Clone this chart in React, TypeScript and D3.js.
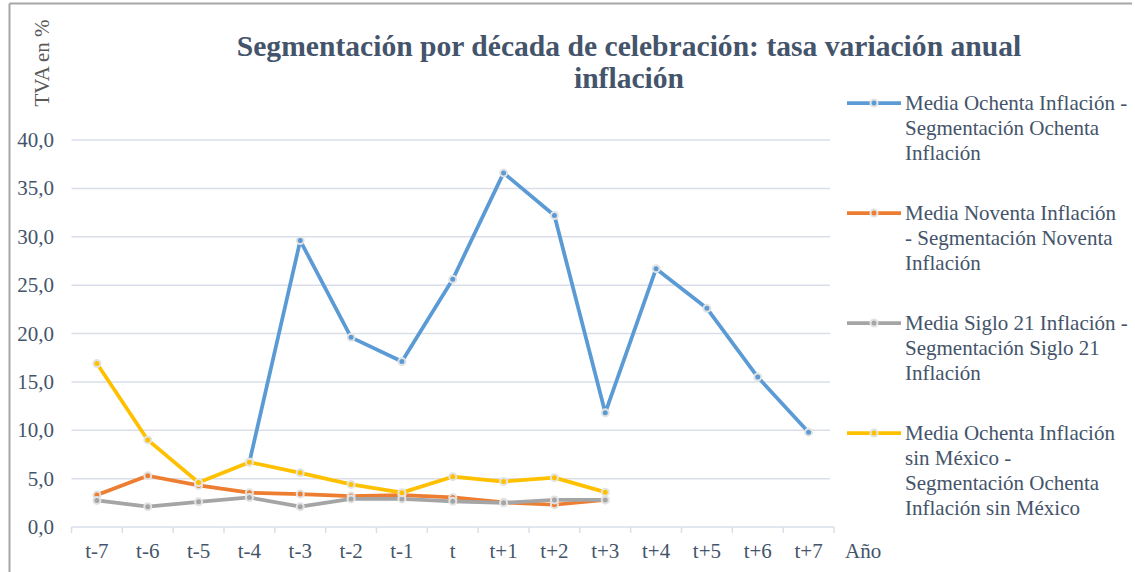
import React from "react";
import * as d3 from "d3";

const categories = ["t-7","t-6","t-5","t-4","t-3","t-2","t-1","t","t+1","t+2","t+3","t+4","t+5","t+6","t+7"];
const yTicks = [0, 5, 10, 15, 20, 25, 30, 35, 40];

const ochenta: (number | null)[] = [null, null, null, 6.7, 29.6, 19.6, 17.1, 25.6, 36.6, 32.2, 11.8, 26.7, 22.6, 15.5, 9.8];
const noventa: (number | null)[] = [3.3, 5.3, 4.3, 3.55, 3.4, 3.2, 3.3, 3.05, 2.55, 2.3, 2.8, null, null, null, null];
const siglo21: (number | null)[] = [2.75, 2.1, 2.6, 3.05, 2.1, 2.9, 2.9, 2.65, 2.5, 2.8, 2.8, null, null, null, null];
const ochentaSinMexico: (number | null)[] = [16.9, 9.0, 4.6, 6.7, 5.6, 4.4, 3.55, 5.2, 4.7, 5.1, 3.6, null, null, null, null];

const seriesNames = [
  ["Media Ochenta Inflación -", "Segmentación Ochenta", "Inflación"],
  ["Media Noventa Inflación", "- Segmentación Noventa", "Inflación"],
  ["Media Siglo 21 Inflación -", "Segmentación Siglo 21", "Inflación"],
  ["Media Ochenta Inflación", "sin México -", "Segmentación Ochenta", "Inflación sin México"],
];
const seriesColors = ["#5B9BD5", "#ED7D31", "#A5A5A5", "#FFC000"];
const seriesValues = [ochenta, noventa, siglo21, ochentaSinMexico];
const FONT = "Liberation Serif";
const TXT = "#44546A";

export default function App() {
  const W = 1135, H = 572;
  const left = 71.5, right = 834, top = 140, bottom = 527;
  const x = d3.scaleBand<string>().domain(categories).range([left, right]);
  const y = d3.scaleLinear().domain([0, 40]).range([bottom, top]);
  const cx = (c: string) => (x(c) as number) + x.bandwidth() / 2;
  const line = d3.line<[string, number | null]>()
    .defined(d => d[1] !== null)
    .x(d => cx(d[0]))
    .y(d => y(d[1] as number));

  const legendY = [103, 213, 323, 433];
  const lh = 25;
  const ts = { fontFamily: FONT };
  const FS = 21;

  return (
    <svg width={W} height={H} style={{ position: "absolute", left: 0, top: 0, background: "#fff", fontFamily: FONT }}>
      <line x1={9.5} y1={3.5} x2={1132} y2={3.5} stroke="#A6A6A6" strokeWidth={2} />
      <line x1={9.5} y1={3.5} x2={9.5} y2={H} stroke="#A6A6A6" strokeWidth={2} />

      <text style={ts} x={629} y={56} textAnchor="middle" fontSize={29.6} fontWeight="bold" fill={TXT}>
        Segmentación por década de celebración: tasa variación anual
      </text>
      <text style={ts} x={629} y={88} textAnchor="middle" fontSize={29.6} fontWeight="bold" fill={TXT}>
        inflación
      </text>

      <text style={ts} transform="translate(49,63) rotate(-90)" textAnchor="middle" fontSize={FS} fill="#595959">TVA en %</text>

      {yTicks.map(t => (
        <g key={t}>
          {t !== 0 && <line x1={left} x2={right - 4} y1={y(t)} y2={y(t)} stroke="#D9DEE8" strokeWidth={1.5} />}
          <text style={ts} x={54} y={y(t) + 7} textAnchor="end" fontSize={FS} fill={TXT}>{d3.format(".1f")(t).replace(".", ",")}</text>
        </g>
      ))}
      <line x1={left} x2={right} y1={bottom} y2={bottom} stroke="#D9DEE8" strokeWidth={1.5} />
      {categories.map(c => (
        <line key={"tk" + c} x1={(x(c) as number)} x2={(x(c) as number)} y1={bottom} y2={bottom + 6} stroke="#D9DEE8" strokeWidth={1.5} />
      ))}
      <line x1={right} x2={right} y1={bottom} y2={bottom + 6} stroke="#D9DEE8" strokeWidth={1.5} />
      {categories.map(c => (
        <text style={ts} key={"lb" + c} x={cx(c)} y={558} textAnchor="middle" fontSize={FS} fill={TXT}>{c}</text>
      ))}
      <text style={ts} x={845} y={558} fontSize={FS} fill={TXT}>Año</text>

      {seriesValues.map((vals, si) => {
        const data = categories.map((c, i) => [c, vals[i]] as [string, number | null]);
        return (
          <g key={"s" + si}>
            <path d={line(data) || ""} fill="none" stroke={seriesColors[si]} strokeWidth={3.75} strokeLinejoin="round" strokeLinecap="round" />
            {data.filter(d => d[1] !== null).map(d => (
              <circle key={d[0]} cx={cx(d[0])} cy={y(d[1] as number)} r={3.5} fill={seriesColors[si]} stroke="#E3E3E3" strokeWidth={2} />
            ))}
          </g>
        );
      })}

      {seriesNames.map((lines, si) => (
        <g key={"lg" + si}>
          <line x1={847} x2={901} y1={legendY[si]} y2={legendY[si]} stroke={seriesColors[si]} strokeWidth={3.75} />
          <circle cx={874} cy={legendY[si]} r={3.5} fill={seriesColors[si]} stroke="#E3E3E3" strokeWidth={2} />
          {lines.map((t, li) => (
            <text style={ts} key={li} x={905} y={legendY[si] + 7 + li * lh} fontSize={FS} fill={TXT}>{t}</text>
          ))}
        </g>
      ))}
    </svg>
  );
}
